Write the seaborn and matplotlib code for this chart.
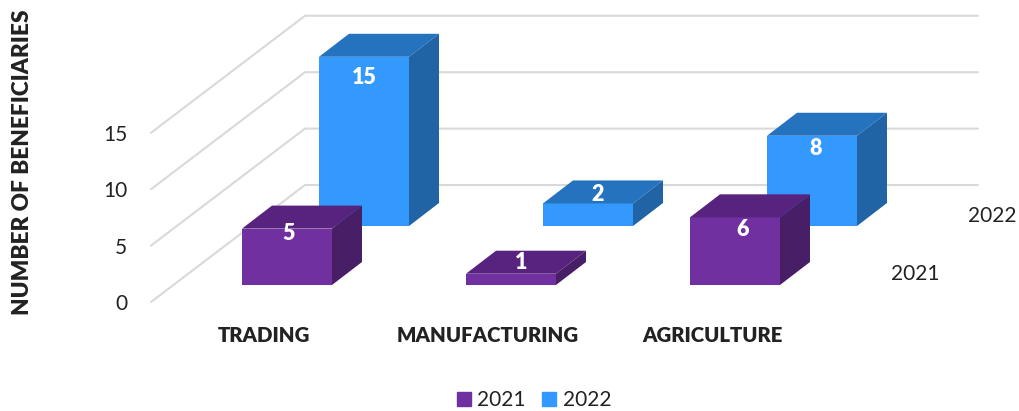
import matplotlib
matplotlib.use("Agg")
import matplotlib.pyplot as plt
import seaborn as sns
import pandas as pd
from matplotlib.patches import Patch

categories = ["TRADING", "MANUFACTURING", "AGRICULTURE"]
values_2021 = [5, 1, 6]
values_2022 = [15, 2, 8]
years = ["2021", "2022"]
y_ticks = [0, 5, 10, 15]

# styles / layout
W, H = 1020, 411
PX_X = 224.0    # pixels per category
PX_Y = 11.28    # pixels per value unit
LEFT, RIGHT, BOTTOM, TOP = 151, 1020, 302, 0
FONT = ["Lato", "DejaVu Sans"]
FILL = {"2021": ("#7030A0", "#58237F", "#481F66"), "2022": ("#3399FF", "#2572BF", "#2064A5")}
PLANE = {"2021": (23, 17), "2022": (100, 76)}     # px offset of each series plane
NUDGE = {"2021": [(2, -5), (10, 11), (8, -12)], "2022": [(0, -21), (10, 9), (4, -13)]}
BAR_DEPTH = (30, 23)
WALL = (154, 117)
BAR_W = 90 / PX_X

sns.set_theme(style="white")
plt.rcParams["font.family"] = FONT

fig = plt.figure(figsize=(W / 100, H / 100), dpi=100)
ax = fig.add_axes([LEFT / W, (H - BOTTOM) / H, (RIGHT - LEFT) / W, (BOTTOM - TOP) / H])
x0 = (LEFT - 264) / PX_X
ax.patch.set_alpha(0)

xpos = list(range(len(categories)))
handles = {}
for year, vals, z in [("2022", values_2022, 3), ("2021", values_2021, 4)]:
    dx, dy = PLANE[year][0] / PX_X, PLANE[year][1] / PX_Y
    front, top, side = FILL[year]
    df = pd.DataFrame({"x": [p + dx for p in xpos], "v": vals})
    sns.barplot(data=df, x="x", y="v", native_scale=True, width=BAR_W, color=front, saturation=1,
                bottom=dy, zorder=z, ax=ax, legend=False, linewidth=0)
    ddx, ddy = BAR_DEPTH[0] / PX_X, BAR_DEPTH[1] / PX_Y
    for p, v, (nx, ny) in zip(xpos, vals, NUDGE[year]):
        l, r = p + dx - BAR_W / 2, p + dx + BAR_W / 2
        b, t = dy, dy + v
        ax.fill([l, r, r + ddx, l + ddx], [t, t, t + ddy, t + ddy], color=top, lw=0, zorder=z)
        ax.fill([r, r + ddx, r + ddx, r], [b, b + ddy, t + ddy, t], color=side, lw=0, zorder=z)
        ax.text(p + dx + nx / PX_X, t + ny / PX_Y, str(v), color="white", fontweight="heavy",
                fontsize=15.5, ha="center", va="center", zorder=z + 5)
    handles[year] = Patch(color=front, label=year)

# walls
wx, wy = WALL[0] / PX_X, WALL[1] / PX_Y
x_end = x0 + (978 - LEFT) / PX_X
for v in y_ticks:
    ax.plot([x0, x0 + wx, x_end], [v, v + wy, v + wy], color="#D9D9D9", lw=1.5, zorder=1,
            solid_joinstyle="miter", clip_on=False)

ax.set_xlim(x0, x0 + (RIGHT - LEFT) / PX_X)
ax.set_ylim(0, (BOTTOM - TOP) / PX_Y)
ax.set_xticks(xpos, categories, fontweight="heavy", fontsize=14.7, color="#222222")
ax.set_yticks(y_ticks, [str(v) for v in y_ticks], fontsize=15, color="#222222")
ax.tick_params(axis="x", length=0, pad=17)
ax.tick_params(axis="y", length=0, pad=17)
ax.set_xlabel("")
ax.set_ylabel("")
sns.despine(ax=ax, left=True, bottom=True)

# depth axis labels
for year, (lx, ly) in zip(years, [(915, 274), (992, 216)]):
    ax.text((lx - 264) / PX_X, (BOTTOM - ly) / PX_Y, year, fontsize=15, color="#222222",
            ha="center", va="center", clip_on=False)

fig.text(23 / W, 1 - 162 / H, "NUMBER OF BENEFICIARIES", rotation=90, fontweight="heavy",
         fontsize=16.3, color="#222222", ha="center", va="center")

fig.legend(handles=[handles[y] for y in years], labels=years, loc="center",
           bbox_to_anchor=(534 / W, 1 - 400 / H), ncol=2,
           frameon=False, fontsize=15, handlelength=0.67, handleheight=0.67, handletextpad=0.3,
           columnspacing=0.8, labelcolor="#222222")

fig.savefig("out.png", dpi=100)
